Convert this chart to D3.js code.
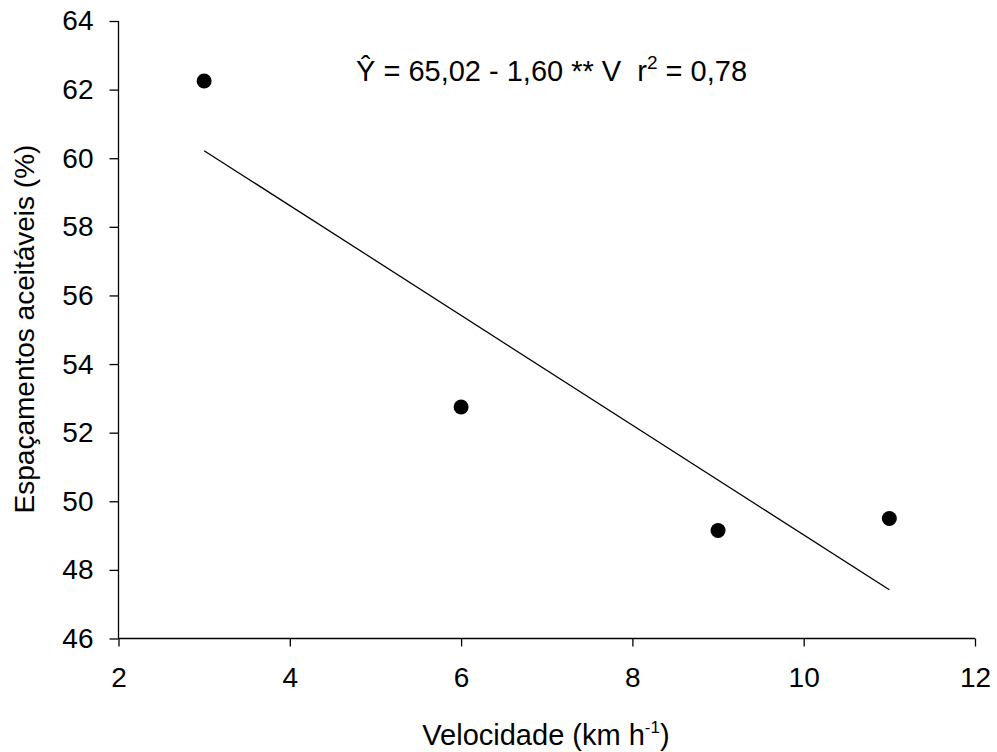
<!DOCTYPE html>
<html><head><meta charset="utf-8">
<script src="https://cdn.jsdelivr.net/npm/d3@7"></script>
<style>body{margin:0;background:#fff;} text{font-family:"Liberation Sans",Arial,sans-serif;fill:#000;}</style>
</head><body><svg id="c" width="997" height="752"></svg>
<script>
const velocity = [3, 6, 9, 11];
const spacing = [62.25, 52.75, 49.15, 49.5];
const xTicks = [2, 4, 6, 8, 10, 12];
const yTicks = [46, 48, 50, 52, 54, 56, 58, 60, 62, 64];
const fitX = [3, 11];
const intercept = 65.02, slope = -1.60;

const svg = d3.select("#c");
const x = d3.scaleLinear().domain([2, 12]).range([118.5, 975]);
const y = d3.scaleLinear().domain([46, 64]).range([638.5, 21]);

const FS = "29px";
const xa = svg.append("g").attr("transform", "translate(0,638.5)")
  .call(d3.axisBottom(x).tickValues(xTicks).tickSize(8).tickPadding(21).tickFormat(d3.format("d")));
const ya = svg.append("g").attr("transform", "translate(118.5,0)")
  .call(d3.axisLeft(y).tickValues(yTicks).tickSize(9).tickPadding(16).tickFormat(d3.format("d")));
[xa, ya].forEach(g => {
  g.selectAll("path,line").attr("stroke", "#000").attr("stroke-width", 1.3);
  g.selectAll("text").style("font-size", "28px").style("font-family", "Liberation Sans, Arial, sans-serif");
});
xa.select(".domain").attr("d", "M118.5,0H975");
ya.select(".domain").attr("d", "M0,21V638.5");

svg.append("line")
  .attr("x1", x(fitX[0])).attr("y1", y(intercept + slope * fitX[0]))
  .attr("x2", x(fitX[1])).attr("y2", y(intercept + slope * fitX[1]))
  .attr("stroke", "#000").attr("stroke-width", 1.3);

svg.selectAll("circle.p").data(velocity).enter().append("circle")
  .attr("cx", (d) => x(d)).attr("cy", (d, i) => y(spacing[i])).attr("r", 7.5).attr("fill", "#000");

// equation
const eq = svg.append("text").attr("x", 356).attr("y", 81).style("font-size", FS).style("white-space", "pre");
eq.append("tspan").text("\u0176 = 65,02 - 1,60 ** V  r");
eq.append("tspan").attr("dy", -12).style("font-size", "19px").text("2");
eq.append("tspan").attr("dy", 12).text(" = 0,78");

// axis titles
const xl = svg.append("text").attr("x", 546).attr("y", 745).attr("text-anchor", "middle").style("font-size", FS);
xl.append("tspan").text("Velocidade (km h");
xl.append("tspan").attr("dy", -12).style("font-size", "17px").text("-1");
xl.append("tspan").attr("dy", 12).text(")");

svg.append("text").attr("transform", "translate(34,329) rotate(-90)").attr("text-anchor", "middle")
  .style("font-size", "28px").text("Espaçamentos aceitáveis (%)");
</script></body></html>
